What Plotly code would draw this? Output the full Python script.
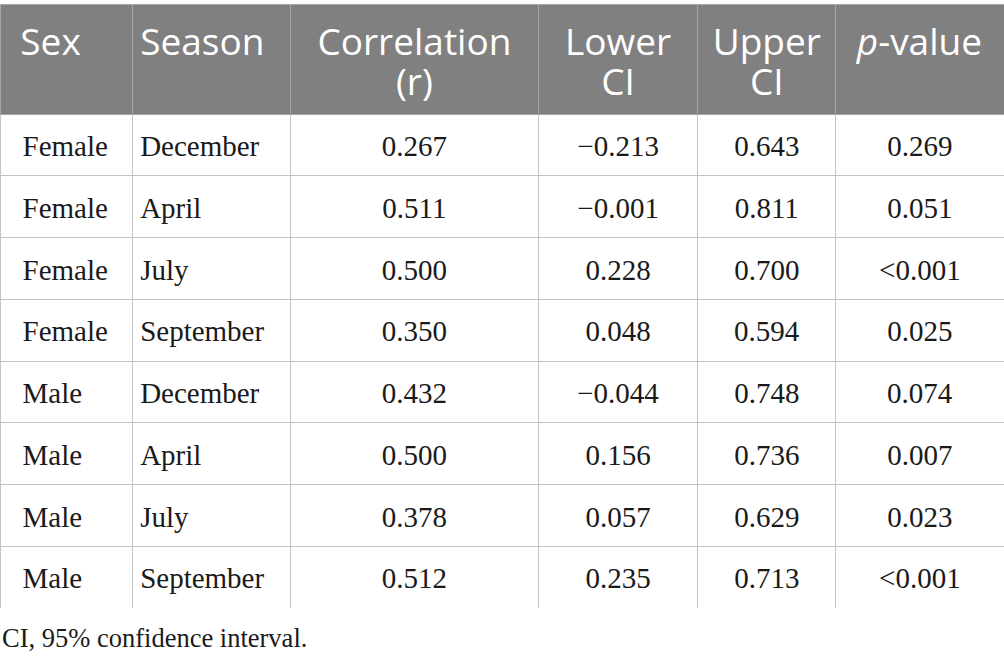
import plotly.graph_objects as go

sex = ["Female", "Female", "Female", "Female", "Male", "Male", "Male", "Male"]
season = ["December", "April", "July", "September", "December", "April", "July", "September"]
corr = ["0.267", "0.511", "0.500", "0.350", "0.432", "0.500", "0.378", "0.512"]
lower_ci = ["\u22120.213", "\u22120.001", "0.228", "0.048", "\u22120.044", "0.156", "0.057", "0.235"]
upper_ci = ["0.643", "0.811", "0.700", "0.594", "0.748", "0.736", "0.629", "0.713"]
p_value = ["0.269", "0.051", "<0.001", "0.025", "0.074", "0.007", "0.023", "<0.001"]
header_line1 = ["Sex", "Season", "Correlation", "Lower", "Upper", "<i>p</i>-value"]
header_line2 = ["", "", "(r)", "CI", "CI", ""]
footnote = "CI, 95% confidence interval."

W, H = 1004, 660
col_widths = [132, 158, 248, 159, 138, 168]
aligns = ["left", "left", "center", "center", "center", "center"]
table_top = 4
header_h = 110
row_h = 61.75
n_rows = len(sex)


def dom(top_px, bottom_px):
    return dict(x=[0, 1], y=[1 - bottom_px / H, 1 - top_px / H])


def wrap(v):
    # uniform rich-text path so every cell is positioned the same way
    return "<span>" + v.replace("<0", "&lt;0") + "</span>" if v else ""


CLEAR = "rgba(0,0,0,0)"
NOLINE = dict(color=CLEAR, width=0)

# 1) grid: fills and rule lines, no text
grid = go.Table(
    columnwidth=col_widths,
    domain=dom(table_top, table_top + header_h + n_rows * row_h),
    header=dict(values=[""] * 6, fill_color="#808080",
                line=dict(color="#a6a6a6", width=1), height=header_h),
    cells=dict(values=[[""] * n_rows for _ in range(6)], fill_color="white",
               line=dict(color="#c4c4c4", width=1), height=row_h),
    hoverinfo="skip",
)


def header_text(values, top_px):
    return go.Table(
        columnwidth=col_widths,
        domain=dom(top_px, H - 5),
        header=dict(
            values=[wrap(v) for v in values],
            fill_color=CLEAR, line=NOLINE,
            font=dict(family="Open Sans", size=37, color="white"),
            align=aligns, height=60,
            prefix=["\u2004", "", "", "", "", ""],
        ),
        cells=dict(values=[[] for _ in range(6)]),
        hoverinfo="skip",
    )


hdr1 = header_text(header_line1, 7)
hdr2 = header_text(header_line2, 47)

# 3) body text (transparent, offset so text sits centred in the rows)
body_text = go.Table(
    columnwidth=col_widths,
    domain=dom(table_top, H - 5),
    header=dict(values=[""] * 6, fill_color=CLEAR, line=NOLINE, height=118),
    cells=dict(
        values=[[wrap(v) for v in col] for col in [sex, season, corr, lower_ci, upper_ci, p_value]],
        fill_color=CLEAR, line=NOLINE,
        font=dict(family="Liberation Serif", size=29, color="#1a1a1a"),
        align=aligns, height=row_h,
        prefix=["\u2002", "", "", "", "", ""],
    ),
    hoverinfo="skip",
)

fig = go.Figure([grid, hdr1, hdr2, body_text])

fig.add_annotation(
    text=footnote, x=0, y=1 - 638 / H, xref="paper", yref="paper",
    xanchor="left", yanchor="middle", showarrow=False,
    font=dict(family="Liberation Serif", size=26.5, color="#1a1a1a"),
)

fig.update_layout(
    width=W, height=H,
    margin=dict(l=0, r=0, t=0, b=0),
    paper_bgcolor="white",
)

fig.write_html("out.html", config={"displayModeBar": False},
               post_script="document.body.style.margin='0';")
